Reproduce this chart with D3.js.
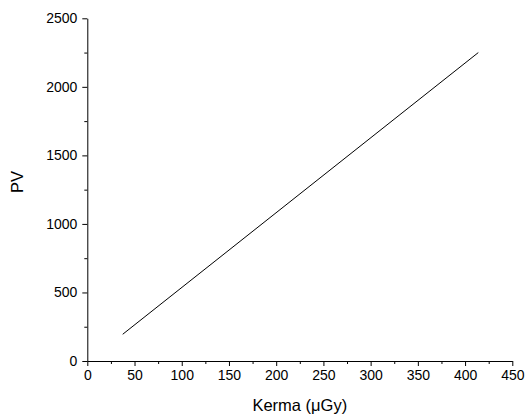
<!DOCTYPE html>
<html>
<head>
<meta charset="utf-8">
<script src="https://cdn.jsdelivr.net/npm/d3@7"></script>
<style>
  html, body { margin: 0; padding: 0; background: #fff; }
  svg { display: block; font-family: "Liberation Sans", Arial, sans-serif; }
</style>
</head>
<body>
<svg id="chart" width="525" height="414"></svg>
<script>
// Calibration line: pixel value (PV) against air kerma
const kerma = [37.5, 414];
const pv = [195, 2250];

const xTicks = [0, 50, 100, 150, 200, 250, 300, 350, 400, 450];
const yTicks = [0, 500, 1000, 1500, 2000, 2500];
const xMinor = [25, 75, 125, 175, 225, 275, 325, 375, 425];
const yMinor = [250, 750, 1250, 1750, 2250];

const xLabel = "Kerma (\u03BCGy)";
const yLabel = "PV";

(function draw() {
  const svg = d3.select("#chart");
  const plotLeft = 87.3, plotRight = 512.3, plotTop = 18.3, plotBottom = 361;

  const x = d3.scaleLinear().domain([0, 450]).range([plotLeft, plotRight]);
  const y = d3.scaleLinear().domain([0, 2500]).range([plotBottom, plotTop]);

  const tickFont = "14px";
  const fmt = d3.format("d");

  // x axis: major ticks with labels, then unlabeled minor ticks
  const gx = svg.append("g").attr("transform", `translate(0,${plotBottom})`);
  gx.call(d3.axisBottom(x).tickValues(xTicks).tickFormat(fmt).tickSize(5).tickPadding(4).tickSizeOuter(0));
  gx.append("g").call(d3.axisBottom(x).tickValues(xMinor).tickSize(3).tickFormat("").tickSizeOuter(0))
    .select(".domain").remove();

  const gy = svg.append("g").attr("transform", `translate(${plotLeft},0)`);
  gy.call(d3.axisLeft(y).tickValues(yTicks).tickFormat(fmt).tickSize(5).tickPadding(5).tickSizeOuter(0));
  gy.append("g").call(d3.axisLeft(y).tickValues(yMinor).tickSize(3).tickFormat("").tickSizeOuter(0))
    .select(".domain").remove();

  svg.selectAll(".tick text")
    .attr("font-family", "Liberation Sans, Arial, sans-serif")
    .attr("font-size", tickFont)
    .attr("fill", "#000");
  svg.selectAll(".domain, .tick line").attr("stroke", "#000").attr("stroke-width", 1);

  // Fitted line
  const line = d3.line().x((d, i) => x(kerma[i])).y(d => y(d));
  svg.append("path")
    .datum(pv)
    .attr("d", line)
    .attr("fill", "none")
    .attr("stroke", "#000")
    .attr("stroke-width", 1);

  // Axis titles
  svg.append("text")
    .attr("x", (plotLeft + plotRight) / 2)
    .attr("y", 411)
    .attr("text-anchor", "middle")
    .attr("font-size", "16.5px")
    .attr("fill", "#000")
    .text(xLabel);

  svg.append("text")
    .attr("transform", "translate(22.7,182) rotate(-90)")
    .attr("text-anchor", "middle")
    .attr("font-size", "16.5px")
    .attr("fill", "#000")
    .text(yLabel);
})();
</script>
</body>
</html>
